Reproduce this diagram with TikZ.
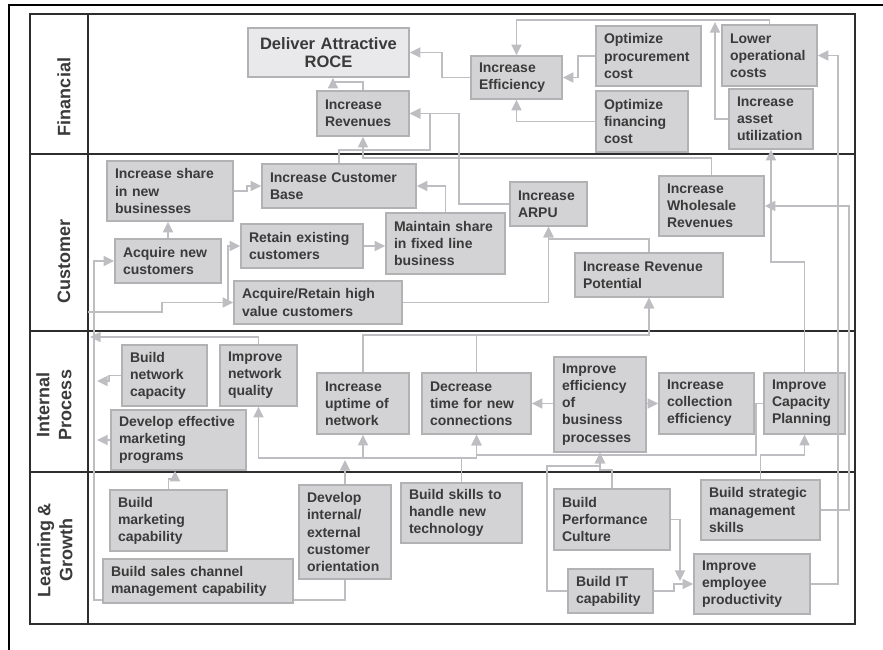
\documentclass[tikz,border=0pt]{standalone}
\usepackage{fontspec}
\setmainfont{Liberation Sans}
\usetikzlibrary{arrows.meta}

\definecolor{boxfill}{RGB}{211,211,213}
\definecolor{boxline}{RGB}{178,178,180}
\definecolor{rocefill}{RGB}{233,233,235}
\definecolor{linkgray}{RGB}{190,190,194}
\definecolor{inkgray}{RGB}{58,58,58}
\definecolor{gridline}{RGB}{45,45,45}

\tikzset{
  box/.style={draw=boxline, fill=boxfill, line width=1.2pt, text=inkgray, align=left,
    font=\fontsize{10.5}{12.8}\selectfont\bfseries, inner xsep=6pt, inner ysep=0pt},
  lane/.style={rotate=90, text=inkgray, align=center, font=\fontsize{13.5}{16.5}\selectfont\bfseries},
  link/.style={draw=linkgray, line width=1.4pt},
  arr/.style={link, -{Triangle[length=8pt,width=7.5pt]}},
}

\begin{document}
\begin{tikzpicture}[x=0.75pt,y=0.75pt,yscale=-1,xscale=1]
\useasboundingbox (0,0) rectangle (883,650);

%Page edge
\draw [line width=1.5pt] (9,650) -- (9,5) -- (883,5) ;
%Table
\draw [gridline, line width=1.1pt] (30,14) rectangle (855,624) ;
\draw [gridline, line width=1.1pt] (88,14) -- (88,624) ;
\draw [gridline, line width=1.1pt] (30,154) -- (855,154) ;
\draw [gridline, line width=1.1pt] (30,331) -- (855,331) ;
\draw [gridline, line width=1.1pt] (30,472) -- (855,472) ;

% Text Node
\node [lane] (finLbl) at (64,97) {Financial};
\node [lane] (custLbl) at (64,261) {Customer};
\node [lane] (ipLbl) at (54,405) {Internal\\Process};
\node [lane] (lgLbl) at (55,550) {Learning \&\\Growth};

% Financial
\node [box, fill=rocefill, align=center, font=\fontsize{12.4}{13.5}\selectfont\bfseries, text width=108.75pt, minimum height=36.75pt] (roce) at (328.5,52.5) {Deliver Attractive\\ROCE};
\node [box, text width=57pt, minimum height=33.75pt] (incRev) at (363,113.5) {Increase\\Revenues};
\node [box, text width=56.25pt, minimum height=32.25pt] (incEff) at (516.5,77.5) {Increase\\Efficiency};
\node [box, text width=66.75pt, minimum height=45pt] (optProc) at (648.5,56) {Optimize\\procurement\\cost};
\node [box, text width=57pt, minimum height=45.75pt] (optFin) at (642,121.5) {Optimize\\financing\\cost};
\node [box, text width=59.25pt, minimum height=45.75pt] (lowerOp) at (769.5,55.5) {Lower\\operational\\costs};
\node [box, text width=51pt, minimum height=45pt] (assetUt) at (771,119) {Increase\\asset\\utilization};

% Customer
\node [box, text width=82.5pt, minimum height=45pt] (shareNew) at (170,191) {Increase share\\in new\\businesses};
\node [box, text width=103.5pt, minimum height=33pt] (custBase) at (339,186) {Increase Customer\\Base};
\node [box, text width=67.5pt, minimum height=33pt] (acqNew) at (168,261) {Acquire new\\customers};
\node [box, text width=79.5pt, minimum height=33pt] (retain) at (302,246) {Retain existing\\customers};
\node [box, text width=77.25pt, minimum height=45.75pt] (maintain) at (445.5,243.5) {Maintain share\\in fixed line\\business};
\node [box, text width=114pt, minimum height=32.25pt] (acqHigh) at (318,302.5) {Acquire/Retain high\\value customers};
\node [box, text width=45.75pt, minimum height=33pt] (arpu) at (548.5,204) {Increase\\ARPU};
\node [box, text width=66.75pt, minimum height=45pt] (wholesale) at (711.5,206) {Increase\\Wholesale\\Revenues};
\node [box, text width=99pt, minimum height=33pt] (revPot) at (649,275) {Increase Revenue\\Potential};

% Internal Process
\node [box, text width=51.75pt, minimum height=45.75pt] (netCap) at (164.5,375.5) {Build\\network\\capacity};
\node [box, text width=45.75pt, minimum height=45.75pt] (netQual) at (258.5,375.5) {Improve\\network\\quality};
\node [box, text width=89.25pt, minimum height=45pt] (mktProg) at (178.5,440) {Develop effective\\marketing\\programs};
\node [box, text width=57pt, minimum height=45.75pt] (uptime) at (363,403.5) {Increase\\uptime of\\network};
\node [box, text width=69.75pt, minimum height=45.75pt] (newConn) at (476.5,403.5) {Decrease\\time for new\\connections};
\node [box, text width=57pt, minimum height=71.25pt] (bizProc) at (600,404.5) {Improve\\efficiency\\of\\business\\processes};
\node [box, text width=59.25pt, minimum height=45.75pt] (collect) at (706.5,403.5) {Increase\\collection\\efficiency};
\node [box, text width=48.75pt, minimum height=45.75pt] (capPlan) at (804.5,403.5) {Improve\\Capacity\\Planning};

% Learning & Growth
\node [box, text width=75.75pt, minimum height=45.75pt] (mktCap) at (168.5,520.5) {Build\\marketing\\capability};
\node [box, text width=130.5pt, minimum height=33pt] (sales) at (198,581) {Build sales channel\\management capability};
\node [box, text width=57pt, minimum height=70.5pt] (custOrient) at (345,532) {Develop\\internal/\\external\\customer\\orientation};
\node [box, text width=78.75pt, minimum height=45pt] (skills) at (461.5,513) {Build skills to\\handle new\\technology};
\node [box, text width=75pt, minimum height=45.75pt] (perfCult) at (612,519.5) {Build\\Performance\\Culture};
\node [box, text width=51.75pt, minimum height=33pt] (itCap) at (610.5,591) {Build IT\\capability};
\node [box, text width=77.25pt, minimum height=45pt] (stratMgmt) at (760.5,510) {Build strategic\\management\\skills};
\node [box, text width=75pt, minimum height=45pt] (empProd) at (752,584) {Improve\\employee\\productivity};

% free ends
\coordinate (effBus) at (715,22);
\coordinate (custIn) at (88,312);
\coordinate (qualTip) at (90,337);
\coordinate (capTip) at (97,381);
\coordinate (progTip) at (97,440);
\coordinate (netBus) at (345,460);
\coordinate (prodJoin) at (680,581);

%Connectors, financial
\draw [arr] (incRev.north) -- ++(0,-8) -| (333,0 |- roce.south) ;
\draw [arr] (incEff.west) -- ++(-28,0) |- (roce.east) ;
\draw [arr] (custBase.north) |- (430,150) |- (incRev.east) ;
\draw [arr] (arpu.west) -| (459,0 |- incRev.east) -- (incRev.east) ;
\draw [arr] (wholesale.north) |- (incRev.south |- 0,158) -- (incRev.south) ;
\draw [arr] (optProc.west) -- ++(-17,0) |- (incEff.east) ;
\draw [arr] (optFin.west) -| (incEff.south) ;
\draw [arr] (lowerOp.north) |- (incEff.north |- 0,20) -- (incEff.north) ;
\draw [arr] (assetUt.west) -| (effBus) ;
\draw [arr] (empProd.east) -- ++(27,0) |- (lowerOp.east) ;
\draw [arr] (stratMgmt.east) -- ++(28,0) |- (wholesale.east) ;
\draw [arr] (capPlan.north) |- (assetUt.south |- 0,262) -- (assetUt.south) ;

%Connectors, customer
\draw [arr] (acqNew.north) -- (acqNew.north |- shareNew.south) ;
\draw [arr] (shareNew.east) -- ++(13,0) |- (custBase.west) ;
\draw [arr] (retain.east) -- (retain.east -| maintain.west) ;
\draw [arr] (maintain.north) |- (custBase.east) ;
\draw [arr] (custIn) -| (162,0 |- acqHigh.west) -- (acqHigh.west) ;
\draw [arr] (custIn) -| (162,0 |- acqHigh.west) -| (228,0 |- retain.west) -- (retain.west) ;
\draw [arr] (acqHigh.east) -| (arpu.south) ;
\draw [arr] (revPot.north) |- (arpu.south |- 0,239) -- (arpu.south) ;
\draw [arr] (sales.south west |- 0,600) -- ++(-8,0) |- (acqNew.west) ;

%Connectors, internal process
\draw [arr] (uptime.north) |- (revPot.south |- 0,335) -- (revPot.south) ;
\draw [arr] (newConn.north) |- (revPot.south |- 0,335) -- (revPot.south) ;
\draw [arr] (netQual.north) |- (qualTip) ;
\draw [arr] (netCap.west) -- ++(-12,0) |- (capTip) ;
\draw [arr] (mktProg.west) -- (progTip) ;
\draw [arr] (bizProc.west |- newConn.east) -- (newConn.east) ;
\draw [arr] (bizProc.east |- collect.west) -- (collect.west) ;
\draw [arr] (capPlan.west) -- ++(-7,0) |- (newConn.south |- 0,455) -- (newConn.south) ;
\draw [arr] (stratMgmt.north) |- (capPlan.south |- 0,455) -- (capPlan.south) ;

%Connectors, learning and growth
\draw [arr] (skills.north) |- (netQual.south |- 0,458) -- (netQual.south) ;
\draw [arr] (skills.north) |- (uptime.south |- 0,458) -- (uptime.south) ;
\draw [arr] (skills.north) |- (newConn.south |- 0,458) -- (newConn.south) ;
\draw [arr] (custOrient.north) -- (netBus) ;
\draw [link] (custOrient.south) |- (sales.east |- 0,600) ;
\draw [arr] (mktCap.north) -- ++(0,-10) -| (175,0 |- mktProg.south) ;
\draw [arr] (perfCult.north) |- (bizProc.south |- 0,470) -- (bizProc.south) ;
\draw [arr] (itCap.west) -- ++(-20,0) |- (bizProc.south |- 0,466) -- (bizProc.south) ;
\draw [arr] (perfCult.east) -| (prodJoin) ;
\draw [arr] (itCap.east) -- ++(20,0) |- (empProd.west) ;
\end{tikzpicture}
\end{document}
